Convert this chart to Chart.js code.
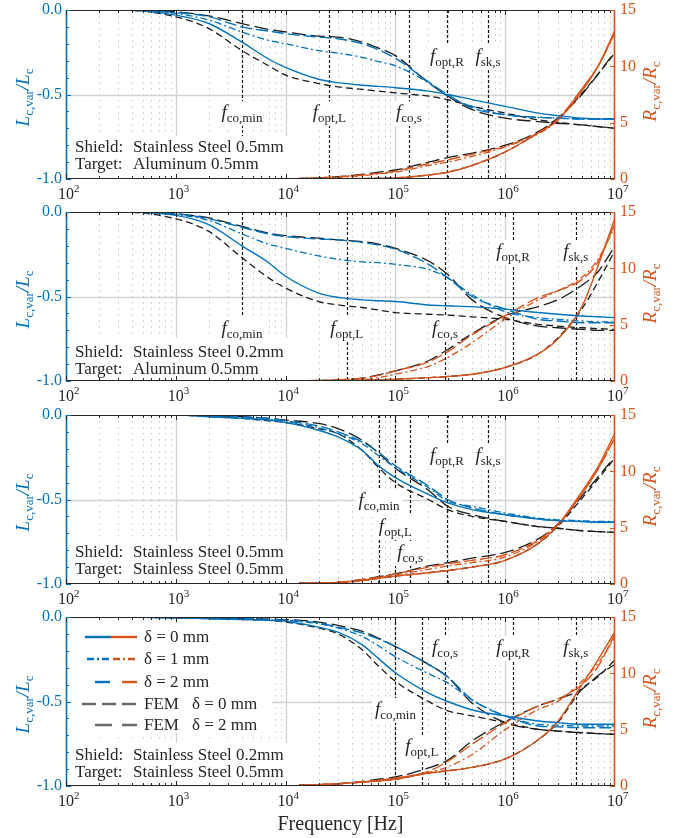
<!DOCTYPE html>
<html>
<head>
<meta charset="utf-8">
<title>Lc,var/Lc and Rc,var/Rc vs frequency</title>
<script src="https://cdn.jsdelivr.net/npm/chart.js@4.4.1/dist/chart.umd.min.js"></script>
<style>
  html, body { margin: 0; padding: 0; background: #fff; }
  #page { position: relative; width: 681px; height: 838px; overflow: hidden; }
  .panel { position: absolute; left: 0; width: 681px; }
</style>
</head>
<body>
<div id="page">
  <div class="panel" style="top:0px;height:203px"><canvas id="panel1"></canvas></div>
  <div class="panel" style="top:202px;height:203px"><canvas id="panel2"></canvas></div>
  <div class="panel" style="top:405px;height:203px"><canvas id="panel3"></canvas></div>
  <div class="panel" style="top:607px;height:231px"><canvas id="panel4"></canvas></div>
</div>
<script>
// ==========================================
// Data
// ==========================================

var freqHz = [1e2, 3e2, 1e3, 2e3, 4e3, 7e3, 1e4, 2e4, 3e4, 5e4, 7e4, 1e5, 2e5, 3e5, 5e5, 1e6, 2e6, 3e6, 5e6, 7e6, 1e7];

// Panel 1: SS 0.5mm shield, Al 0.5mm target
var p1Lc0    = [0, 0, -0.03, -0.08, -0.19, -0.29, -0.34, -0.41, -0.43, -0.445, -0.452, -0.46, -0.48, -0.5, -0.53, -0.57, -0.61, -0.625, -0.64, -0.645, -0.645];
var p1Lc1    = [0, 0, -0.02, -0.06, -0.13, -0.18, -0.2, -0.24, -0.255, -0.28, -0.305, -0.33, -0.43, -0.51, -0.57, -0.62, -0.635, -0.64, -0.645, -0.645, -0.645];
var p1Lc2    = [0, 0, -0.015, -0.04, -0.1, -0.125, -0.14, -0.16, -0.17, -0.2, -0.235, -0.285, -0.425, -0.5, -0.58, -0.62, -0.635, -0.64, -0.645, -0.645, -0.645];
var p1LcFem0 = [0, 0, -0.04, -0.11, -0.24, -0.33, -0.385, -0.435, -0.455, -0.47, -0.48, -0.49, -0.51, -0.53, -0.57, -0.61, -0.65, -0.665, -0.68, -0.69, -0.7];
var p1LcFem2 = [0, 0, -0.01, -0.035, -0.08, -0.115, -0.13, -0.155, -0.16, -0.19, -0.225, -0.27, -0.43, -0.51, -0.59, -0.64, -0.66, -0.67, -0.68, -0.69, -0.7];
var p1Rc0    = [0, 0, 0, 0, 0, 0, 0, 0.01, 0.02, 0.04, 0.07, 0.1, 0.35, 0.6, 1.2, 2.4, 4.1, 5.2, 7.8, 10, 13.2];
var p1Rc1    = [0, 0, 0, 0, 0, 0, 0.02, 0.08, 0.15, 0.3, 0.45, 0.6, 1.2, 1.5, 2.0, 2.85, 4.0, 5.2, 8.0, 10, 13];
var p1Rc2    = [0, 0, 0, 0, 0, 0, 0.03, 0.1, 0.2, 0.35, 0.5, 0.7, 1.35, 1.7, 2.2, 2.9, 4.1, 5.3, 8.0, 10, 13];
var p1RcFem0 = [0, 0, 0, 0, 0, 0, 0, 0.01, 0.02, 0.04, 0.07, 0.1, 0.35, 0.6, 1.2, 2.4, 4.1, 5.3, 7.6, 9.3, 11.2];
var p1RcFem2 = [0, 0, 0, 0, 0, 0, 0.03, 0.1, 0.2, 0.4, 0.6, 0.8, 1.5, 1.9, 2.3, 3.0, 4.2, 5.4, 7.5, 9.3, 11.3];
var p1MarkFreq = [4.0e3, 2.5e4, 1.33e5, 2.95e5, 6.97e5];

// Panel 2: SS 0.2mm shield, Al 0.5mm target
var p2Lc0    = [0, 0, -0.02, -0.075, -0.2, -0.3, -0.38, -0.48, -0.505, -0.52, -0.525, -0.53, -0.55, -0.555, -0.56, -0.575, -0.595, -0.605, -0.615, -0.62, -0.625];
var p2Lc1    = [0, 0, -0.015, -0.05, -0.13, -0.19, -0.215, -0.26, -0.28, -0.295, -0.3, -0.31, -0.34, -0.39, -0.49, -0.59, -0.625, -0.635, -0.645, -0.65, -0.65];
var p2Lc2    = [0, 0, -0.01, -0.04, -0.09, -0.13, -0.145, -0.16, -0.165, -0.18, -0.195, -0.22, -0.31, -0.39, -0.5, -0.575, -0.635, -0.645, -0.655, -0.655, -0.655];
var p2LcFem0 = [0, 0, -0.04, -0.115, -0.27, -0.39, -0.45, -0.53, -0.55, -0.565, -0.58, -0.595, -0.605, -0.61, -0.62, -0.635, -0.665, -0.675, -0.685, -0.69, -0.695];
var p2LcFem2 = [0, 0, -0.01, -0.035, -0.085, -0.125, -0.14, -0.155, -0.165, -0.175, -0.19, -0.215, -0.29, -0.37, -0.52, -0.625, -0.675, -0.685, -0.695, -0.7, -0.7];
var p2Rc0    = [0, 0, 0, 0, 0, 0, 0, 0.02, 0.04, 0.07, 0.1, 0.15, 0.3, 0.4, 0.6, 1.2, 2.4, 3.7, 6.6, 10.2, 14.5];
var p2Rc1    = [0, 0, 0, 0, 0, 0, 0, 0.02, 0.04, 0.1, 0.3, 0.6, 1.3, 2.1, 3.4, 5.5, 7.2, 8.0, 9.2, 10.8, 13.7];
var p2Rc2    = [0, 0, 0, 0, 0, 0, 0, 0.05, 0.1, 0.25, 0.5, 0.9, 1.7, 2.6, 4.1, 5.8, 7.4, 8.0, 9.0, 10.6, 14];
var p2RcFem0 = [0, 0, 0, 0, 0, 0, 0, 0.02, 0.04, 0.07, 0.1, 0.15, 0.3, 0.4, 0.6, 1.2, 2.4, 3.8, 6.4, 8.8, 11.6];
var p2RcFem2 = [0, 0, 0, 0, 0, 0, 0, 0.05, 0.1, 0.25, 0.55, 0.9, 1.8, 2.8, 4.2, 5.8, 6.6, 7.2, 8.5, 9.7, 12];
var p2MarkFreq = [4.0e3, 3.6e4, 2.83e5, 1.18e6, 4.4e6];

// Panel 3: SS 0.5mm shield, SS 0.5mm target
var p3Lc0    = [0, 0, 0, -0.01, -0.02, -0.03, -0.045, -0.09, -0.13, -0.21, -0.3, -0.37, -0.47, -0.52, -0.56, -0.59, -0.615, -0.625, -0.63, -0.635, -0.635];
var p3Lc1    = [0, 0, 0, -0.008, -0.015, -0.025, -0.04, -0.075, -0.11, -0.17, -0.24, -0.31, -0.43, -0.51, -0.54, -0.58, -0.61, -0.62, -0.625, -0.63, -0.63];
var p3Lc2    = [0, 0, 0, -0.005, -0.012, -0.02, -0.035, -0.065, -0.1, -0.16, -0.22, -0.3, -0.42, -0.5, -0.55, -0.59, -0.615, -0.625, -0.63, -0.635, -0.635];
var p3LcFem0 = [0, 0, 0, -0.01, -0.02, -0.035, -0.045, -0.08, -0.11, -0.21, -0.31, -0.4, -0.5, -0.56, -0.6, -0.63, -0.66, -0.67, -0.685, -0.69, -0.695];
var p3LcFem2 = [0, 0, 0, -0.005, -0.01, -0.02, -0.03, -0.05, -0.08, -0.15, -0.225, -0.315, -0.445, -0.54, -0.59, -0.63, -0.66, -0.67, -0.685, -0.69, -0.695];
var p3Rc0    = [0, 0, 0, 0, 0, 0.02, 0.05, 0.08, 0.1, 0.3, 0.5, 0.7, 1.0, 1.2, 1.5, 2.1, 3.6, 5.2, 8.2, 10.4, 13.4];
var p3Rc1    = [0, 0, 0, 0, 0, 0.02, 0.05, 0.1, 0.15, 0.35, 0.55, 0.8, 1.3, 1.6, 1.9, 2.4, 3.8, 5.2, 8.0, 10.2, 13];
var p3Rc2    = [0, 0, 0, 0, 0, 0.02, 0.05, 0.1, 0.15, 0.4, 0.6, 0.9, 1.5, 1.8, 2.1, 2.6, 3.9, 5.3, 8.0, 10.2, 13];
var p3RcFem0 = [0, 0, 0, 0, 0, 0.02, 0.05, 0.08, 0.1, 0.3, 0.5, 0.7, 1.0, 1.2, 1.5, 2.1, 3.6, 5.1, 7.6, 9.3, 11.2];
var p3RcFem2 = [0, 0, 0, 0, 0, 0.02, 0.05, 0.1, 0.15, 0.4, 0.65, 0.9, 1.6, 1.9, 2.3, 2.8, 4.0, 5.3, 7.8, 9.5, 11.3];
var p3MarkFreq = [7.1e4, 1.0e5, 1.36e5, 2.95e5, 6.97e5];

// Panel 4: SS 0.2mm shield, SS 0.5mm target
var p4Lc0    = [0, 0, -0.005, -0.01, -0.015, -0.02, -0.025, -0.06, -0.09, -0.165, -0.245, -0.33, -0.45, -0.5, -0.55, -0.585, -0.615, -0.625, -0.635, -0.635, -0.635];
var p4Lc1    = [0, 0, -0.005, -0.008, -0.012, -0.016, -0.02, -0.04, -0.065, -0.115, -0.17, -0.235, -0.335, -0.39, -0.49, -0.585, -0.635, -0.64, -0.645, -0.645, -0.645];
var p4Lc2    = [0, 0, -0.005, -0.008, -0.01, -0.014, -0.018, -0.035, -0.06, -0.095, -0.13, -0.175, -0.28, -0.355, -0.49, -0.585, -0.645, -0.65, -0.655, -0.655, -0.655];
var p4LcFem0 = [0, 0, -0.005, -0.01, -0.015, -0.02, -0.03, -0.065, -0.1, -0.195, -0.29, -0.38, -0.5, -0.555, -0.585, -0.625, -0.665, -0.675, -0.685, -0.69, -0.695];
var p4LcFem2 = [0, 0, -0.003, -0.006, -0.01, -0.013, -0.015, -0.03, -0.05, -0.085, -0.125, -0.175, -0.28, -0.355, -0.51, -0.625, -0.665, -0.675, -0.685, -0.69, -0.695];
var p4Rc0    = [0, 0, 0, 0, 0, 0.02, 0.05, 0.12, 0.2, 0.35, 0.45, 0.6, 1.15, 1.35, 1.65, 2.4, 4.1, 5.7, 9.0, 11.2, 13.7];
var p4Rc1    = [0, 0, 0, 0, 0, 0.02, 0.05, 0.12, 0.2, 0.35, 0.5, 0.7, 1.2, 1.7, 2.8, 5.0, 6.8, 7.5, 9.3, 10.9, 13.2];
var p4Rc2    = [0, 0, 0, 0, 0, 0.02, 0.05, 0.12, 0.2, 0.35, 0.5, 0.7, 1.3, 2.2, 3.7, 5.6, 7.1, 7.7, 9.0, 10.6, 13.5];
var p4RcFem0 = [0, 0, 0, 0, 0, 0.02, 0.05, 0.12, 0.2, 0.35, 0.45, 0.6, 1.15, 1.35, 1.65, 2.4, 4.1, 5.6, 8.6, 9.7, 11.2];
var p4RcFem2 = [0, 0, 0, 0, 0, 0.02, 0.05, 0.12, 0.2, 0.4, 0.6, 0.8, 1.6, 2.3, 4.0, 5.7, 7.1, 7.7, 8.6, 9.8, 10.8];
var p4MarkFreq = [1.0e5, 1.74e5, 2.83e5, 1.18e6, 4.4e6];

var markNames   = ['co,min', 'opt,L', 'co,s', 'opt,R', 'sk,s'];
var shieldText  = ['Stainless Steel 0.5mm', 'Stainless Steel 0.2mm', 'Stainless Steel 0.5mm', 'Stainless Steel 0.2mm'];
var targetText  = ['Aluminum 0.5mm', 'Aluminum 0.5mm', 'Stainless Steel 0.5mm', 'Stainless Steel 0.5mm'];
var legendNames = ['δ = 0 mm', 'δ = 1 mm', 'δ = 2 mm', 'δ = 0 mm', 'δ = 2 mm'];
var leftTicks   = [0, -0.5, -1];
var leftTickText = ['0.0', '-0.5', '-1.0'];
var rightTicks  = [0, 5, 10, 15];
var decadeExp   = [2, 3, 4, 5, 6, 7];

// ==========================================
// Styles & layout
// ==========================================

var BLUE = '#0072BD', ORANGE = '#D95319', FEMC = '#1c1c1c', INK = '#262626';
var SERIF = '"Liberation Serif", "Times New Roman", serif';

// analytic d=0, d=1, d=2, then FEM d=0, FEM d=2
var lineStyles = [
    { dash: [], width: 1.4 },
    { dash: [7, 3, 2, 3], width: 1.3 },
    { dash: [12, 4], width: 1.4 },
    { dash: [7, 4], width: 1.3 },
    { dash: [14, 5], width: 1.3 }
];

var panels = [
    { canvas: 'panel1', lc: [p1Lc0, p1Lc1, p1Lc2, p1LcFem0, p1LcFem2], rc: [p1Rc0, p1Rc1, p1Rc2, p1RcFem0, p1RcFem2],
      mark: p1MarkFreq, markY: [113, 113, 113, 57, 57], textY: [152, 169], xAxisH: 24, last: false },
    { canvas: 'panel2', lc: [p2Lc0, p2Lc1, p2Lc2, p2LcFem0, p2LcFem2], rc: [p2Rc0, p2Rc1, p2Rc2, p2RcFem0, p2RcFem2],
      mark: p2MarkFreq, markY: [127, 127, 127, 50, 50], textY: [155, 172], xAxisH: 24, last: false },
    { canvas: 'panel3', lc: [p3Lc0, p3Lc1, p3Lc2, p3LcFem0, p3LcFem2], rc: [p3Rc0, p3Rc1, p3Rc2, p3RcFem0, p3RcFem2],
      mark: p3MarkFreq, markY: [96, 122, 148, 51, 51], textY: [152, 169], xAxisH: 24, last: false },
    { canvas: 'panel4', lc: [p4Lc0, p4Lc1, p4Lc2, p4LcFem0, p4LcFem2], rc: [p4Rc0, p4Rc1, p4Rc2, p4RcFem0, p4RcFem2],
      mark: p4MarkFreq, markY: [103, 140, 41, 41, 41], textY: [153, 170], xAxisH: 52, last: true }
];

// ==========================================
// Helpers
// ==========================================

/** Draw text made of runs (font, vertical shift) - used for sub/superscripts. */
function drawRich(ctx, parts, x, y, align) {
    var w = richWidth(ctx, parts);
    var cx = align === 'center' ? x - w / 2 : (align === 'right' ? x - w : x);
    ctx.textAlign = 'left';
    ctx.textBaseline = 'alphabetic';
    parts.forEach(function(p) {
        ctx.font = p.font;
        ctx.fillText(p.t, cx, y + (p.dy || 0));
        cx += ctx.measureText(p.t).width;
    });
}

function richWidth(ctx, parts) {
    var w = 0;
    parts.forEach(function(p) { ctx.font = p.font; w += ctx.measureText(p.t).width; });
    return w;
}

function makeSeries(values, axis, color, style) {
    return {
        data: freqHz.map(function(f, i) { return { x: f, y: values[i] }; }),
        yAxisID: axis,
        borderColor: color,
        borderDash: style.dash,
        borderWidth: style.width,
        pointRadius: 0,
        fill: false,
        cubicInterpolationMode: 'monotone'
    };
}

function strokeLine(ctx, x1, y1, x2, y2) {
    ctx.beginPath(); ctx.moveTo(x1, y1); ctx.lineTo(x2, y2); ctx.stroke();
}

// ==========================================
// Per-panel decoration plugin (grid, markers, labels, axes)
// ==========================================

function makeDeco(p, idx) {
    return {
        id: 'deco' + idx,
        beforeDatasetsDraw: function(chart) {
            var ctx = chart.ctx, a = chart.chartArea, x = chart.scales.x, y = chart.scales.y;
            ctx.save();
            for (var n = 2; n < 7; n++) {
                for (var k = 1; k < 10; k++) {
                    if (n === 2 && k === 1) continue;
                    var px = Math.round(x.getPixelForValue(k * Math.pow(10, n))) + 0.5;
                    if (k === 1) { ctx.setLineDash([]); ctx.strokeStyle = '#d2d2d2'; ctx.lineWidth = 1.3; }
                    else { ctx.setLineDash([1.5, 4.5]); ctx.strokeStyle = '#c4c4c4'; ctx.lineWidth = 1; }
                    strokeLine(ctx, px, a.top, px, a.bottom);
                }
            }
            var gy = Math.round(y.getPixelForValue(-0.5)) + 0.5;
            ctx.setLineDash([]); ctx.strokeStyle = '#d2d2d2'; ctx.lineWidth = 1.3;
            strokeLine(ctx, a.left, gy, a.right, gy);

            // characteristic frequencies
            ctx.strokeStyle = '#111'; ctx.lineWidth = 1.2; ctx.setLineDash([3, 2]);
            p.mark.forEach(function(f) {
                var px = Math.round(x.getPixelForValue(f)) + 0.5;
                strokeLine(ctx, px, a.top, px, a.bottom);
            });
            ctx.restore();
        },
        afterDatasetsDraw: function(chart) {
            var ctx = chart.ctx, a = chart.chartArea;
            var x = chart.scales.x, y = chart.scales.y, yR = chart.scales.yR;
            ctx.save();
            ctx.setLineDash([]);

            // shield/target box
            ctx.fillStyle = '#fff';
            ctx.fillRect(a.left + 1, 136, 232, a.bottom - 137);
            ctx.fillStyle = INK;
            ctx.font = '17px ' + SERIF;
            ctx.textAlign = 'left'; ctx.textBaseline = 'alphabetic';
            ctx.fillText('Shield:', 75, p.textY[0]);
            ctx.fillText(shieldText[idx], 133, p.textY[0]);
            ctx.fillText('Target:', 75, p.textY[1]);
            ctx.fillText(targetText[idx], 133, p.textY[1]);

            // marker labels with white background
            p.mark.forEach(function(f, i) {
                var parts = [
                    { t: 'f', font: 'italic 19px ' + SERIF },
                    { t: markNames[i], font: '13px ' + SERIF, dy: 4 }
                ];
                var cx = x.getPixelForValue(f), cy = p.markY[i];
                var w = richWidth(ctx, parts);
                ctx.fillStyle = '#fff';
                ctx.fillRect(cx - w / 2 - 3, cy - 12, w + 6, 25);
                ctx.fillStyle = INK;
                drawRich(ctx, parts, cx, cy + 5, 'center');
            });

            if (p.last) drawLegend(ctx, a);

            // frame
            ctx.lineWidth = 1.2;
            ctx.strokeStyle = INK;
            strokeLine(ctx, a.left, a.top + 0.5, a.right, a.top + 0.5);
            strokeLine(ctx, a.left, a.bottom - 0.5, a.right, a.bottom - 0.5);
            ctx.lineWidth = 1.6;
            ctx.strokeStyle = BLUE;
            strokeLine(ctx, a.left + 0.5, a.top, a.left + 0.5, a.bottom);
            ctx.strokeStyle = ORANGE;
            strokeLine(ctx, a.right - 0.5, a.top, a.right - 0.5, a.bottom);

            // x ticks (inside, top and bottom)
            ctx.lineWidth = 1; ctx.strokeStyle = INK;
            for (var n = 2; n < 7; n++) {
                for (var k = 1; k < 10; k++) {
                    var px = Math.round(x.getPixelForValue(k * Math.pow(10, n))) + 0.5;
                    var len = k === 1 ? 5 : 3;
                    strokeLine(ctx, px, a.bottom, px, a.bottom - len);
                    strokeLine(ctx, px, a.top, px, a.top + len);
                }
            }
            // left ticks every 0.1
            ctx.strokeStyle = BLUE;
            for (var t = 0; t <= 10; t++) {
                var py = Math.round(y.getPixelForValue(-t / 10)) + 0.5;
                strokeLine(ctx, a.left, py, a.left + (t % 5 === 0 ? 5 : 3), py);
            }
            // right ticks
            ctx.strokeStyle = ORANGE;
            rightTicks.forEach(function(v) {
                var py = Math.round(yR.getPixelForValue(v)) + 0.5;
                strokeLine(ctx, a.right, py, a.right - 5, py);
            });

            // tick labels
            ctx.fillStyle = INK;
            decadeExp.forEach(function(e) {
                var px = x.getPixelForValue(Math.pow(10, e));
                ctx.font = '16px ' + SERIF;
                var w10 = ctx.measureText('10').width;
                drawRich(ctx, [
                    { t: '10', font: '16px ' + SERIF },
                    { t: String(e), font: '11px ' + SERIF, dy: -7 }
                ], px - w10 / 2, a.bottom + 20, 'left');
            });
            ctx.font = '16px ' + SERIF;
            ctx.textBaseline = 'middle';
            ctx.fillStyle = BLUE; ctx.textAlign = 'right';
            leftTicks.forEach(function(v, i) {
                ctx.fillText(leftTickText[i], a.left - 4, y.getPixelForValue(v));
            });
            ctx.fillStyle = ORANGE; ctx.textAlign = 'left';
            rightTicks.forEach(function(v) {
                ctx.fillText(String(v), a.right + 5, yR.getPixelForValue(v));
            });

            // axis titles
            var midY = (a.top + a.bottom) / 2;
            ctx.save();
            ctx.translate(29, midY + 3);
            ctx.rotate(-Math.PI / 2);
            ctx.fillStyle = BLUE;
            drawRich(ctx, [
                { t: 'L', font: 'italic 19px ' + SERIF },
                { t: 'c,var', font: '13px ' + SERIF, dy: 4 },
                { t: '/', font: 'italic 19px ' + SERIF },
                { t: 'L', font: 'italic 19px ' + SERIF },
                { t: 'c', font: '13px ' + SERIF, dy: 4 }
            ], 0, 0, 'center');
            ctx.restore();

            ctx.save();
            ctx.translate(656, midY - 3);
            ctx.rotate(-Math.PI / 2);
            ctx.fillStyle = ORANGE;
            drawRich(ctx, [
                { t: 'R', font: 'italic 19px ' + SERIF },
                { t: 'c,var', font: '13px ' + SERIF, dy: 4 },
                { t: '/', font: 'italic 19px ' + SERIF },
                { t: 'R', font: 'italic 19px ' + SERIF },
                { t: 'c', font: '13px ' + SERIF, dy: 4 }
            ], 0, 0, 'center');
            ctx.restore();

            if (p.last) {
                ctx.fillStyle = INK;
                ctx.font = '20px ' + SERIF;
                ctx.textAlign = 'center'; ctx.textBaseline = 'alphabetic';
                ctx.fillText('Frequency [Hz]', (a.left + a.right) / 2, a.bottom + 44);
            }
            ctx.restore();
        }
    };
}

function drawLegend(ctx, a) {
    ctx.fillStyle = '#fff';
    ctx.fillRect(a.left + 4, 16, 202, 110);
    var rows = [30, 52, 75, 97, 118];
    ctx.lineWidth = 2.4;
    // analytic: blue half + orange half
    ctx.setLineDash([]);
    ctx.strokeStyle = BLUE; strokeLine(ctx, 85, rows[0], 111, rows[0]);
    ctx.strokeStyle = ORANGE; strokeLine(ctx, 111, rows[0], 137, rows[0]);
    ctx.setLineDash([7, 3, 2, 3]);
    ctx.strokeStyle = BLUE; strokeLine(ctx, 87, rows[1], 111, rows[1]);
    ctx.strokeStyle = ORANGE; strokeLine(ctx, 113, rows[1], 137, rows[1]);
    ctx.setLineDash([]);
    ctx.strokeStyle = BLUE; strokeLine(ctx, 95, rows[2], 110, rows[2]);
    ctx.strokeStyle = ORANGE; strokeLine(ctx, 122, rows[2], 137, rows[2]);
    // FEM in gray
    ctx.strokeStyle = '#6a6a6a';
    ctx.setLineDash([14, 6]); strokeLine(ctx, 82, rows[3], 137, rows[3]);
    ctx.setLineDash([17, 10]); strokeLine(ctx, 95, rows[4], 137, rows[4]);
    ctx.setLineDash([]);

    ctx.fillStyle = INK;
    ctx.font = '17px ' + SERIF;
    ctx.textAlign = 'left'; ctx.textBaseline = 'middle';
    for (var i = 0; i < 3; i++) ctx.fillText(legendNames[i], 144, rows[i] + 1);
    ctx.fillText('FEM', 144, rows[3] + 1);
    ctx.fillText(legendNames[3], 192, rows[3] + 1);
    ctx.fillText('FEM', 144, rows[4] + 1);
    ctx.fillText(legendNames[4], 192, rows[4] + 1);
}

// ==========================================
// Build charts
// ==========================================

panels.forEach(function(p, idx) {
    var sets = [];
    for (var i = 0; i < 3; i++) {
        sets.push(makeSeries(p.lc[i], 'y', BLUE, lineStyles[i]));
        sets.push(makeSeries(p.rc[i], 'yR', ORANGE, lineStyles[i]));
    }
    for (var j = 3; j < 5; j++) {
        sets.push(makeSeries(p.lc[j], 'y', FEMC, lineStyles[j]));
        sets.push(makeSeries(p.rc[j], 'yR', FEMC, lineStyles[j]));
    }

    new Chart(document.getElementById(p.canvas), {
        type: 'line',
        data: { datasets: sets },
        options: {
            responsive: true,
            maintainAspectRatio: false,
            animation: false,
            layout: { padding: { top: 10, left: 0, right: 0, bottom: 0 } },
            plugins: { legend: { display: false }, tooltip: { enabled: false } },
            scales: {
                x: {
                    type: 'logarithmic', min: 100, max: 1e7,
                    grid: { display: false }, border: { display: false }, ticks: { display: false },
                    afterFit: function(s) { s.height = p.xAxisH; }
                },
                y: {
                    position: 'left', min: -1, max: 0,
                    grid: { display: false }, border: { display: false }, ticks: { display: false },
                    afterFit: function(s) { s.width = 66; }
                },
                yR: {
                    position: 'right', min: 0, max: 15,
                    grid: { display: false }, border: { display: false }, ticks: { display: false },
                    afterFit: function(s) { s.width = 66; }
                }
            }
        },
        plugins: [makeDeco(p, idx)]
    });
});
</script>
</body>
</html>
